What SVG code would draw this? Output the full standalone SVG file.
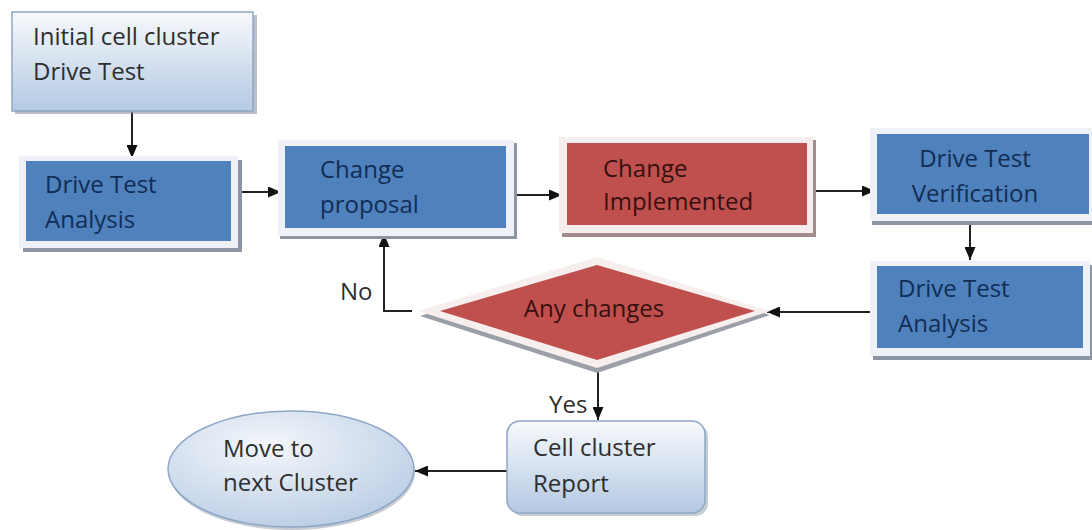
<svg xmlns="http://www.w3.org/2000/svg" width="1092" height="530" viewBox="0 0 1092 530">
<defs>
<linearGradient id="lightGrad" x1="0" y1="0" x2="0" y2="1">
<stop offset="0" stop-color="#f7f9fc"/>
<stop offset="1" stop-color="#b4c9e3"/>
</linearGradient>
<radialGradient id="ellGrad" cx="0.4" cy="0.3" r="0.8">
<stop offset="0" stop-color="#f4f7fb"/>
<stop offset="1" stop-color="#b6cae3"/>
</radialGradient>
<marker id="arr" viewBox="0 0 13 11" refX="13" refY="5.5" markerWidth="13" markerHeight="11" markerUnits="userSpaceOnUse" orient="auto">
<path d="M0,0 L13,5.5 L0,11 z" fill="#111"/>
</marker>
<style>
.t{font-family:"Open Sans","Noto Sans","Liberation Sans",sans-serif;font-size:24px;}
.tb{fill:#112d55;}
.tr{fill:#361010;}
.tl{fill:#2e2e2e;}
.blue{fill:#4f81bd;}
.red{fill:#c0504d;}
.frame{fill:#eef2f8;}
.frameR{fill:#f6eeee;}
.shadow{fill:#8d95a3;}
.shadowR{fill:#a48c8c;}
.light{fill:url(#lightGrad);stroke:#8ea7c6;stroke-width:1.5;}
.conn{fill:none;stroke:#222;stroke-width:2;}
</style>
</defs>
<rect width="1092" height="530" fill="#ffffff"/>

<g id="connectors">
<line class="conn" x1="132" y1="112" x2="132" y2="158" marker-end="url(#arr)"/>
<line class="conn" x1="236" y1="192" x2="281" y2="192" marker-end="url(#arr)"/>
<line class="conn" x1="508" y1="195" x2="562" y2="195" marker-end="url(#arr)"/>
<line class="conn" x1="812" y1="191" x2="875" y2="191" marker-end="url(#arr)"/>
<line class="conn" x1="970" y1="218" x2="970" y2="260" marker-end="url(#arr)"/>
<line class="conn" x1="870" y1="312" x2="767" y2="312" marker-end="url(#arr)"/>
<polyline class="conn" points="412,311 384,311 384,234" marker-end="url(#arr)"/>
<line class="conn" x1="598" y1="362" x2="598" y2="420" marker-end="url(#arr)"/>
<line class="conn" x1="507" y1="471" x2="415" y2="471" marker-end="url(#arr)"/>
</g>

<g id="n1">
<rect x="15" y="15" width="242" height="99" class="shadow" opacity="0.6"/>
<rect x="12" y="12" width="241" height="99" class="light"/>
<text class="t tl" x="33" y="45">Initial cell cluster</text>
<text class="t tl" x="33" y="80">Drive Test</text>
</g>

<g id="n2">
<rect x="23" y="160" width="219" height="92" class="shadow"/>
<rect x="19" y="156" width="219" height="92" class="frame"/>
<rect x="26" y="161" width="205" height="80" class="blue"/>
<text class="t tb" x="45" y="193">Drive Test</text>
<text class="t tb" x="45" y="228">Analysis</text>
</g>

<g id="n3">
<rect x="280" y="143" width="237" height="96" class="shadow"/>
<rect x="278" y="140" width="236" height="96" class="frame"/>
<rect x="285" y="146" width="221" height="82" class="blue"/>
<text class="t tb" x="320" y="178">Change</text>
<text class="t tb" x="320" y="213">proposal</text>
</g>

<g id="n4">
<rect x="562" y="140" width="254" height="97" class="shadowR"/>
<rect x="559" y="137" width="254" height="96" class="frameR"/>
<rect x="567" y="143" width="240" height="82" class="red"/>
<text class="t tr" x="603" y="177">Change</text>
<text class="t tr" x="603" y="210">Implemented</text>
</g>

<g id="n5">
<rect x="872" y="132" width="220" height="93" class="shadow"/>
<rect x="870" y="128" width="222" height="93" class="frame"/>
<rect x="877" y="134" width="212" height="80" class="blue"/>
<text class="t tb" x="975" y="167" text-anchor="middle">Drive Test</text>
<text class="t tb" x="975" y="202" text-anchor="middle">Verification</text>
</g>

<g id="n6">
<rect x="873" y="265" width="219" height="95" class="shadow"/>
<rect x="870" y="261" width="220" height="95" class="frame"/>
<rect x="877" y="266" width="206" height="82" class="blue"/>
<text class="t tb" x="898" y="297">Drive Test</text>
<text class="t tb" x="898" y="332">Analysis</text>
</g>

<g id="decision">
<polygon points="420,316 597,262 770,315 597,373" fill="#9a9fa8"/>
<polygon points="418,311 597,257 770,311 597,368" fill="#f7eeee"/>
<polygon points="440,311 597,265 755,311 597,360" class="red"/>
<text class="t tr" x="594" y="317" text-anchor="middle">Any changes</text>
</g>

<g id="labels">
<text class="t tl" x="340" y="300">No</text>
<text class="t tl" x="549" y="413">Yes</text>
</g>

<g id="report">
<rect x="510" y="424" width="198" height="92" rx="13" class="shadow" opacity="0.5"/>
<rect x="507" y="421" width="198" height="92" rx="13" class="light"/>
<text class="t tl" x="533" y="456">Cell cluster</text>
<text class="t tl" x="533" y="492">Report</text>
</g>

<g id="next">
<ellipse cx="292" cy="472" rx="123" ry="58" fill="#8d95a3" opacity="0.5"/>
<ellipse cx="291" cy="469" rx="123" ry="58" fill="url(#ellGrad)" stroke="#8ea7c6" stroke-width="1.5"/>
<text class="t tl" x="223" y="457">Move to</text>
<text class="t tl" x="223" y="491">next Cluster</text>
</g>
</svg>
